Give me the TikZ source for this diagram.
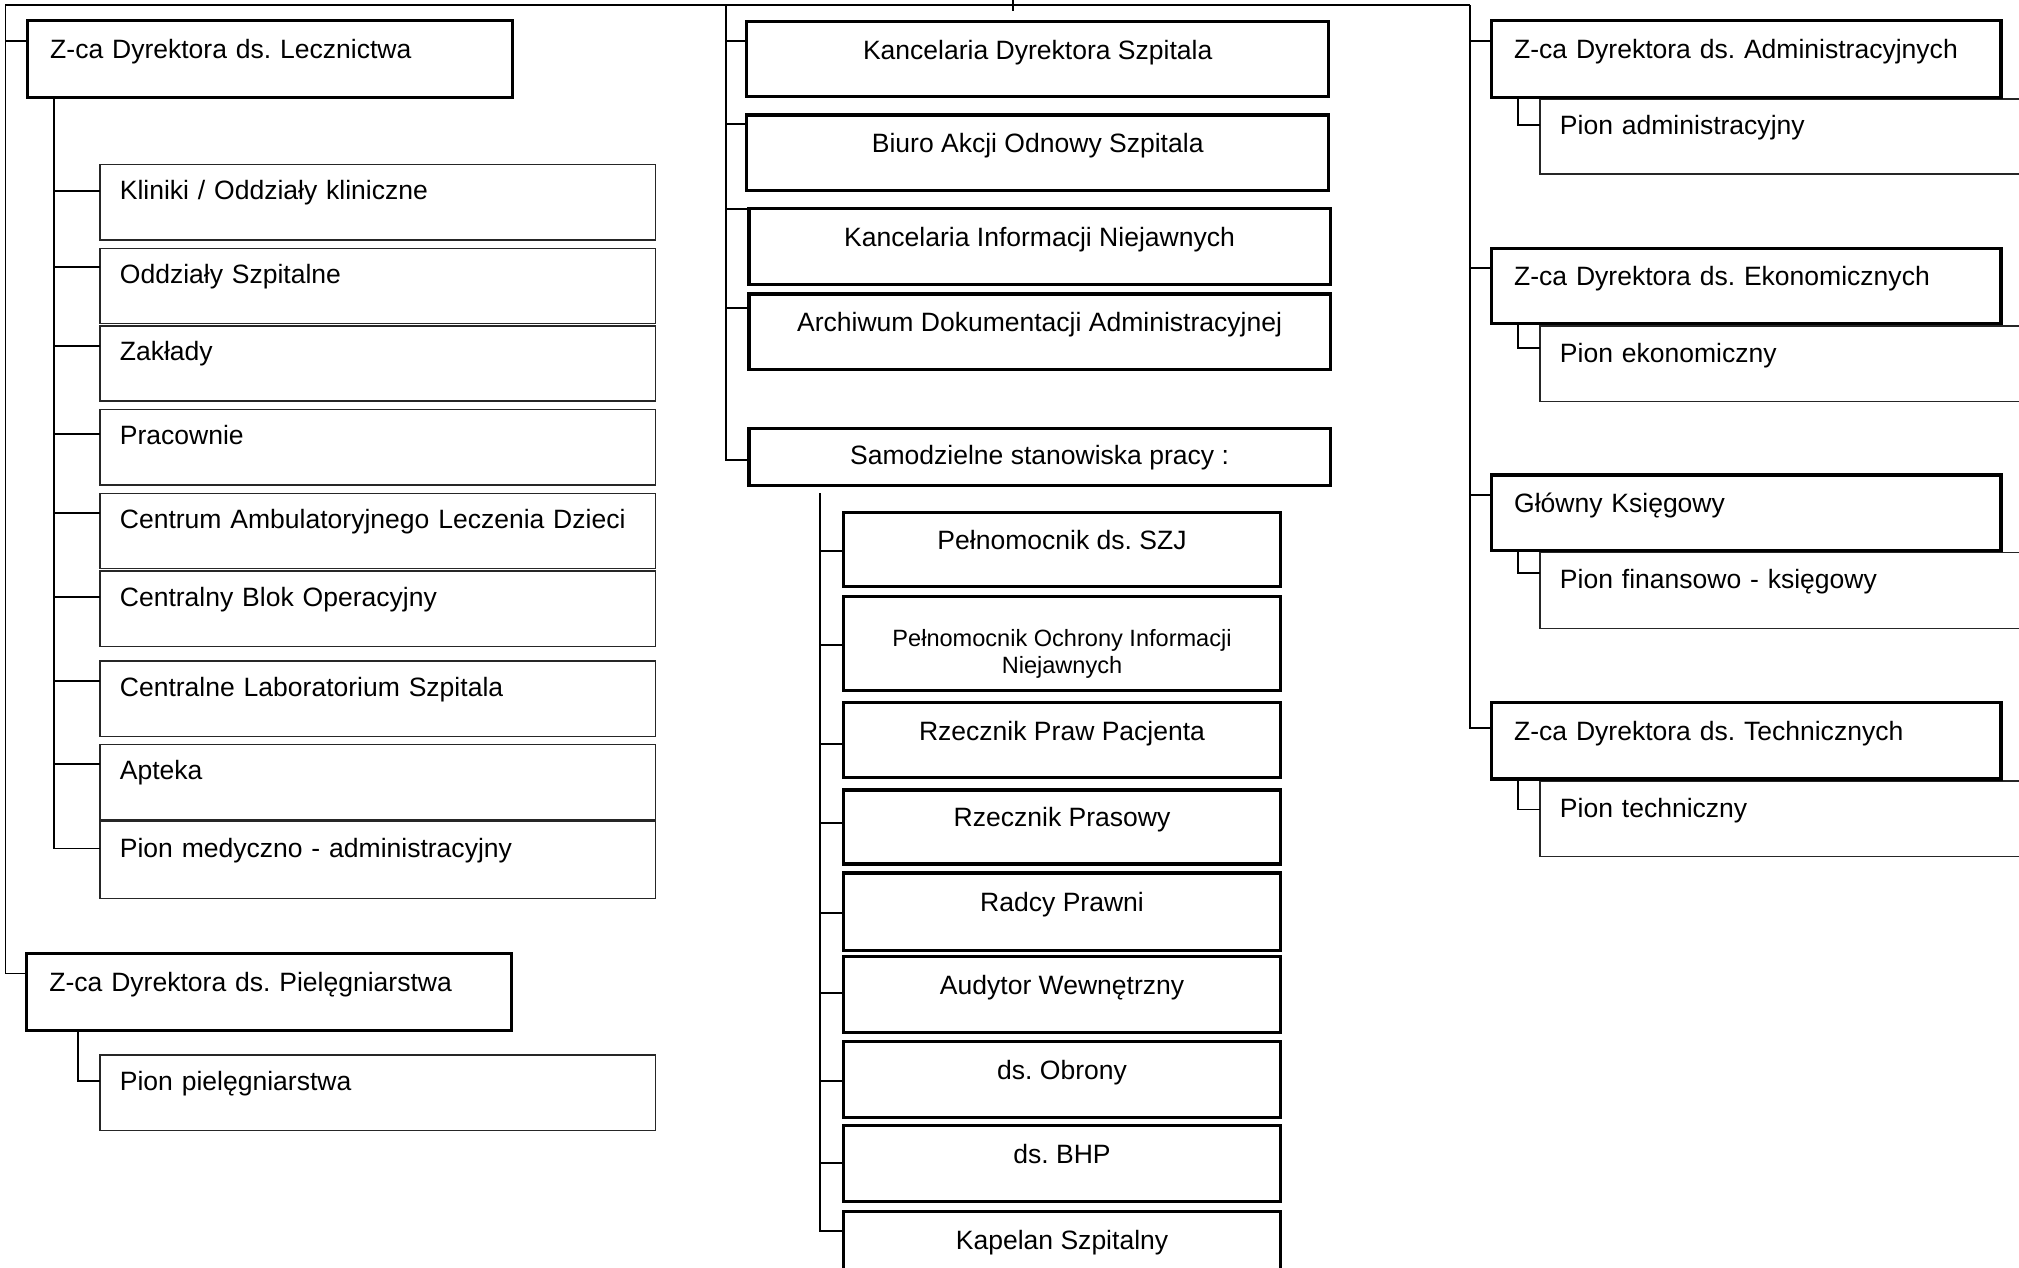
\documentclass[tikz,border=0pt]{standalone}
\usepackage{fontspec}
\setmainfont{Liberation Sans}
\frenchspacing
\newcommand\fsmain{\fontsize{20.6}{24}\selectfont}
\newcommand\fssmall{\fontsize{18.3}{21}\selectfont}
\newcommand\stubto[3]{\path (#2.north west) ++(0,#3) coordinate (#2-s); \draw[conn] (#1 |- #2-s) -- (#2-s);}
\newcommand\elbow[4]{\path (#1.south west) ++(#3,0) coordinate (#1-b); \path (#2.north west) ++(0,#4) coordinate (#2-s); \draw[conn] (#1-b) |- (#2-s);}
\tikzset{
  conn/.style={draw=black, line width=1.4pt},
  basebox/.style={anchor=north west, outer sep=0pt, inner ysep=0pt, font=\fsmain},
  thickL/.style={basebox, draw=black, line width=2.4pt, inner xsep=17.5pt, text width=341.5pt, align=left, text height=8pt, text depth=8pt},
  thickR/.style={basebox, draw=black, line width=2.4pt, inner xsep=17.5pt, text width=360.6pt, align=left, text height=8pt, text depth=8pt},
  thinL/.style={basebox, draw=black!85, line width=1.1pt, inner xsep=15.5pt, text width=400.4pt, align=left, text height=6pt, text depth=10pt},
  thinR/.style={basebox, draw=black!85, line width=1.1pt, inner xsep=15.5pt, text width=393pt, align=left, text height=7pt, text depth=9.5pt},
  thickC/.style={basebox, draw=black, line width=2.4pt, inner xsep=0pt, align=center, text height=8pt, text depth=8pt},
  smalltext/.style={font=\fssmall, anchor=base, inner sep=0pt},
}
\begin{document}
\begin{tikzpicture}[x=1pt,y=-1pt]
\useasboundingbox (0,0) rectangle (1568,984);
\clip (0,0) rectangle (1568,984);
\fill[white] (0,0) rectangle (1568,984);

% ---- left column ----
\node[thickL, minimum height=59.5pt] (lecz) at (21.5,16) {Z-ca Dyrektora ds. Lecznictwa};
\node[thinL, minimum height=58.8pt] (kliniki) at (77.6,127.6) {Kliniki / Oddziały kliniczne};
\node[thinL, minimum height=58.2pt] (oddz) at (77.6,192.9) {Oddziały Szpitalne};
\node[thinL, minimum height=58.2pt] (zakl) at (77.6,253.2) {Zakłady};
\node[thinL, minimum height=58.8pt] (prac) at (77.6,317.9) {Pracownie};
\node[thinL, minimum height=58.3pt] (centrum) at (77.6,383.1) {Centrum Ambulatoryjnego Leczenia Dzieci};
\node[thinL, minimum height=58.7pt] (blok) at (77.6,443.5) {Centralny Blok Operacyjny};
\node[thinL, minimum height=58.7pt] (lab) at (77.6,513.4) {Centralne Laboratorium Szpitala};
\node[thinL, minimum height=58.8pt] (apteka) at (77.6,578.1) {Apteka};
\node[thinL, minimum height=59.6pt] (pionmed) at (77.6,638.1) {Pion medyczno - administracyjny};
\node[thickL, minimum height=59.6pt] (piel) at (20.9,740.4) {Z-ca Dyrektora ds. Pielęgniarstwa};
\node[thinL, minimum height=58.7pt] (pionpiel) at (77.6,819.4) {Pion pielęgniarstwa};

% ---- middle column ----
\node[thickC, minimum width=451.8pt, minimum height=58.5pt] (kdyr) at (580,16.8) {Kancelaria Dyrektora Szpitala};
\node[thickC, minimum width=451.8pt, minimum height=58.7pt] (biuro) at (580,89.3) {Biuro Akcji Odnowy Szpitala};
\node[thickC, minimum width=451.3pt, minimum height=58.8pt] (kinf) at (581.7,161.8) {Kancelaria Informacji Niejawnych};
\node[thickC, minimum width=451.3pt, minimum height=58.6pt] (arch) at (581.7,228.3) {Archiwum Dokumentacji Administracyjnej};
\node[thickC, minimum width=451.3pt, minimum height=44pt, text height=14pt, text depth=2pt] (samodz) at (581.7,332.7) {Samodzielne stanowiska pracy :};

\node[thickC, minimum width=339.6pt, minimum height=57.5pt] (szj) at (655,398) {Pełnomocnik ds. SZJ};
\node[thickC, minimum width=339.6pt, minimum height=72.6pt] (ochr) at (655,463.4) {};
\node[smalltext] (ochr-t1) at ([yshift=-38.6pt]ochr.north) {Pełnomocnik Ochrony Informacji};
\node[smalltext] (ochr-t2) at ([yshift=-59.6pt]ochr.north) {Niejawnych};
\node[thickC, minimum width=339.6pt, minimum height=58.3pt] (praw) at (655,545.7) {Rzecznik Praw Pacjenta};
\node[thickC, minimum width=339.6pt, minimum height=57.5pt] (pras) at (655,613.5) {Rzecznik Prasowy};
\node[thickC, minimum width=339.6pt, minimum height=60pt] (radcy) at (655,678) {Radcy Prawni};
\node[thickC, minimum width=339.6pt, minimum height=59pt] (aud) at (655,743) {Audytor Wewnętrzny};
\node[thickC, minimum width=339.6pt, minimum height=59.5pt] (obr) at (655,808.5) {ds. Obrony};
\node[thickC, minimum width=339.6pt, minimum height=59pt] (bhp) at (655,874) {ds. BHP};
\node[thickC, minimum width=339.6pt, minimum height=59pt] (kap) at (655,941) {Kapelan Szpitalny};

% ---- right column ----
\node[thinR, minimum height=58.1pt] (pionadm) at (1196,77) {Pion administracyjny};
\node[thinR, minimum height=58.8pt] (pionek) at (1196,253.2) {Pion ekonomiczny};
\node[thinR, minimum height=58.8pt] (pionfin) at (1196,429.2) {Pion finansowo - księgowy};
\node[thinR, minimum height=58.7pt] (piontech) at (1196,606.6) {Pion techniczny};
\node[thickR, minimum height=59.6pt] (admin) at (1158.4,16) {Z-ca Dyrektora ds. Administracyjnych};
\node[thickR, minimum height=58.2pt] (ekon) at (1158.4,192.9) {Z-ca Dyrektora ds. Ekonomicznych};
\node[thickR, minimum height=58.3pt] (glowny) at (1158.4,368.9) {Główny Księgowy};
\node[thickR, minimum height=59.3pt] (techn) at (1158.4,545.7) {Z-ca Dyrektora ds. Technicznych};

% ---- trunks ----
\coordinate (topL) at (4.2,3.9);
\coordinate (topM) at (563.8,3.9);
\coordinate (topR) at (1141.9,3.9);
\coordinate (apex) at (786.9,0);
\coordinate (apexb) at (786.9,8.5);
\draw[conn] (apex) -- (apexb);

\stubto{topL}{lecz}{15.6}
\stubto{topL}{piel}{15.6}
\draw[conn] (topL |- piel-s) -- (topL) -- (topR);

\stubto{topR}{admin}{15.6}
\stubto{topR}{ekon}{15}
\stubto{topR}{glowny}{15.5}
\path (techn.north west) ++(0,19.9) coordinate (techn-s);
\draw[conn] (topR) -- (topR |- techn-s) -- (techn-s);

\stubto{topM}{kdyr}{14.8}
\stubto{topM}{biuro}{7.3}
\stubto{topM}{kinf}{0.6}
\stubto{topM}{arch}{11.1}
\path (samodz.north west) ++(0,24.6) coordinate (samodz-s);
\draw[conn] (topM) -- (topM |- samodz-s) -- (samodz-s);

% lecznictwa branch
\path (lecz.south west) ++(20.6,0) coordinate (leczb);
\stubto{leczb}{kliniki}{20.5}
\stubto{leczb}{oddz}{14.7}
\stubto{leczb}{zakl}{15.3}
\stubto{leczb}{prac}{19.4}
\stubto{leczb}{centrum}{15.1}
\stubto{leczb}{blok}{19.9}
\stubto{leczb}{lab}{15.2}
\stubto{leczb}{apteka}{15.5}
\path (pionmed.north west) ++(0,20.8) coordinate (pionmed-s);
\draw[conn] (leczb) -- (leczb |- pionmed-s) -- (pionmed-s);

% pielegniarstwa branch
\elbow{piel}{pionpiel}{39.7}{20.2}

% samodzielne branch
\coordinate (sjt) at (637,383);
\stubto{sjt}{szj}{29.7}
\stubto{sjt}{ochr}{37.6}
\stubto{sjt}{praw}{32.3}
\stubto{sjt}{pras}{25.5}
\stubto{sjt}{radcy}{31}
\stubto{sjt}{aud}{28}
\stubto{sjt}{obr}{31.1}
\stubto{sjt}{bhp}{29}
\path (kap.north west) ++(0,15) coordinate (kap-s);
\draw[conn] (sjt) -- (sjt |- kap-s) -- (kap-s);

% right elbows
\elbow{admin}{pionadm}{20.2}{20.1}
\elbow{ekon}{pionek}{20.2}{16.8}
\elbow{glowny}{pionfin}{20.2}{15.6}
\elbow{techn}{piontech}{20.2}{22}
\end{tikzpicture}
\end{document}
